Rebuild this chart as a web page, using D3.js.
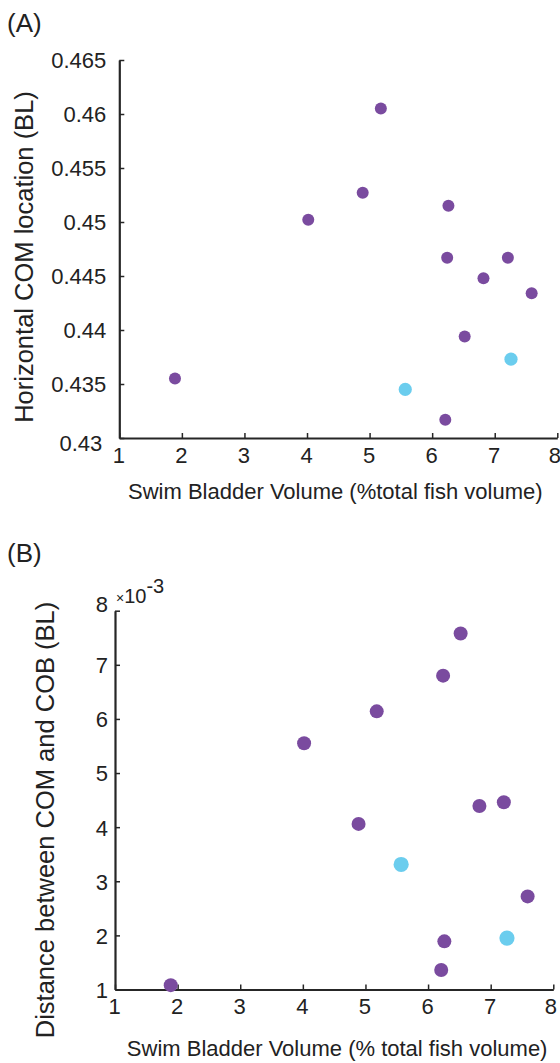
<!DOCTYPE html>
<html><head><meta charset="utf-8">
<script src="https://cdn.jsdelivr.net/npm/d3@7"></script>
<style>
html,body{margin:0;padding:0;background:#fff;}
svg{display:block;font-family:"Liberation Sans",Arial,Helvetica,sans-serif;}
</style></head><body>
<svg id="c" width="560" height="1063"></svg>
<script>
// Data (one entry per fish)
const swimBladderVolume = [1.89, 4.02, 4.89, 5.18, 5.57, 6.21, 6.24, 6.26, 6.52, 6.82, 7.21, 7.26, 7.59];
const comLocation      = [0.4355, 0.4502, 0.4527, 0.4605, 0.4345, 0.4317, 0.4467, 0.4515, 0.4394, 0.4448, 0.4467, 0.4373, 0.4434];
const comCobDistance   = [1.08, 5.55, 4.06, 6.14, 3.31, 1.36, 6.80, 1.89, 7.58, 4.39, 4.46, 1.95, 2.72]; // x10^-3 BL
const fishGroup        = [0, 0, 0, 0, 1, 0, 0, 0, 0, 0, 0, 1, 0];
const xTicks = [1, 2, 3, 4, 5, 6, 7, 8];
const yTicksA = [0.43, 0.435, 0.44, 0.445, 0.45, 0.455, 0.46, 0.465];
const yTicksB = [1, 2, 3, 4, 5, 6, 7, 8];
const groupColors = ["#7a4b9f", "#6bcdee"];

const svg = d3.select("#c");
const axisColor = "#262626";
const fontTick = 22;

function panel(cfg) {
  const x = d3.scaleLinear().domain([1, 8]).range([cfg.left, cfg.right]);
  const y = d3.scaleLinear().domain(cfg.yDomain).range([cfg.bottom, cfg.top]);
  const g = svg.append("g");

  const xa = d3.axisBottom(x).tickValues(xTicks).tickSize(-5).tickSizeOuter(0).tickFormat(d3.format("d"));
  const gx = g.append("g").attr("transform", `translate(0,${cfg.bottom})`).call(xa);
  gx.select(".domain").attr("stroke", axisColor).attr("stroke-width", 2.2);
  gx.selectAll(".tick line").attr("stroke", axisColor).attr("stroke-width", 1.5);
  gx.selectAll(".tick text").attr("fill", "#222").attr("font-size", fontTick)
    .attr("y", cfg.xLabY).attr("dy", 0)
    .attr("dx", (d, i, n) => i === n.length - 1 ? -3 : -1);

  const ya = d3.axisLeft(y).tickValues(cfg.yTicks).tickSize(-5).tickSizeOuter(0).tickFormat(cfg.yFmt);
  const gy = g.append("g").attr("transform", `translate(${cfg.left},0)`).call(ya);
  gy.select(".domain").attr("stroke", axisColor).attr("stroke-width", 2.2);
  gy.selectAll(".tick line").attr("stroke", axisColor).attr("stroke-width", 1.5);
  gy.selectAll(".tick text").attr("fill", "#222").attr("font-size", fontTick)
    .attr("x", -cfg.yLabGap).attr("dy", "0.36em")
    .attr("transform", (d, i, n) => i === 0 ? `translate(${cfg.firstShiftX},${cfg.firstShift})` : (i === n.length - 1 ? `translate(0,${cfg.lastShift})` : null));

  g.selectAll("circle.pt").data(swimBladderVolume).join("circle")
    .attr("class", "pt")
    .attr("cx", (d) => x(d))
    .attr("cy", (d, i) => y(cfg.values[i]))
    .attr("r", (d, i) => fishGroup[i] ? cfg.r + 0.6 : cfg.r)
    .attr("fill", (d, i) => groupColors[fishGroup[i]]);

  g.append("text").attr("x", (cfg.left + cfg.right) / 2 + cfg.titleDx).attr("y", cfg.xTitleY)
    .attr("text-anchor", "middle").attr("font-size", 22).attr("fill", "#222").text(cfg.xTitle);
  g.append("text").attr("transform", `translate(${cfg.yTitleX},${cfg.yTitleY}) rotate(-90)`)
    .attr("text-anchor", "middle").attr("font-size", 25.5).attr("fill", "#222").text(cfg.yTitle);
  g.append("text").attr("x", 7).attr("y", cfg.tagY).attr("font-size", 26).attr("fill", "#222").text(cfg.tag);
  return { x, y, g };
}

panel({
  left: 119.3, right: 557.3, top: 60, bottom: 438,
  yDomain: [0.43, 0.465], yTicks: yTicksA, yFmt: (d) => d3.format("")(+d.toFixed(3)),
  values: comLocation, r: 6, xLabY: 25, yLabGap: 13, firstShiftX: -4, firstShift: 5, lastShift: 0,
  xTitle: "Swim Bladder Volume (%total fish volume)", xTitleY: 499, titleDx: -3,
  yTitle: "Horizontal COM location (BL)", yTitleX: 33, yTitleY: 257,
  tag: "(A)", tagY: 32
});

const pB = panel({
  left: 115, right: 553.3, top: 610.7, bottom: 989.5,
  yDomain: [1, 8], yTicks: yTicksB, yFmt: d3.format("d"),
  values: comCobDistance, r: 7, xLabY: 24, yLabGap: 7, firstShiftX: 0, firstShift: 0, lastShift: -7,
  xTitle: "Swim Bladder Volume (% total fish volume)", xTitleY: 1056, titleDx: 3,
  yTitle: "Distance between COM and COB (BL)", yTitleX: 54, yTitleY: 820,
  tag: "(B)", tagY: 562
});

// exponent label
const ex = pB.g.append("text").attr("x", 116).attr("y", 603).attr("fill", "#222");
ex.append("tspan").attr("font-size", 14).text("\u00d7");
ex.append("tspan").attr("font-size", 20).text("10");
ex.append("tspan").attr("font-size", 20).attr("dy", -10).text("-3");
</script>
</body></html>
